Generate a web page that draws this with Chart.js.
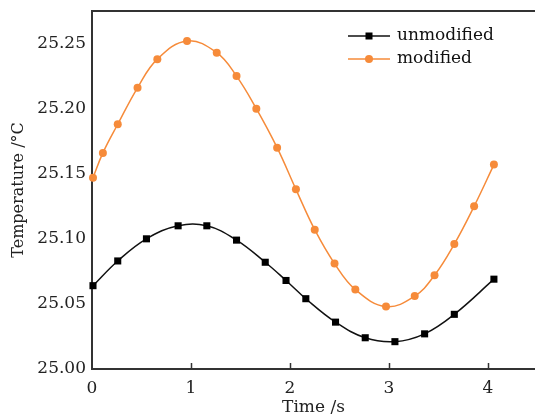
<!DOCTYPE html>
<html>
<head>
<meta charset="utf-8">
<script src="https://cdn.jsdelivr.net/npm/chart.js@4.4.1/dist/chart.umd.min.js"></script>
<style>
    html, body { margin: 0; padding: 0; background: #fff; }
    #wrap { width: 535px; height: 420px; }
</style>
</head>
<body>
<div id="wrap"><canvas id="tempChart"></canvas></div>
<script>
// values
const timeUnmod = [0.01, 0.26, 0.55, 0.87, 1.16, 1.46, 1.75, 1.96, 2.16, 2.46, 2.76, 3.06, 3.36, 3.66, 4.06];
const tempUnmod = [25.064, 25.083, 25.100, 25.110, 25.110, 25.099, 25.082, 25.068, 25.054, 25.036, 25.024, 25.021, 25.027, 25.042, 25.069];

const timeMod = [0.01, 0.11, 0.26, 0.46, 0.66, 0.96, 1.26, 1.46, 1.66, 1.87, 2.06, 2.25, 2.45, 2.66, 2.97, 3.26, 3.46, 3.66, 3.86, 4.06];
const tempMod = [25.147, 25.166, 25.188, 25.216, 25.238, 25.252, 25.243, 25.225, 25.200, 25.170, 25.138, 25.107, 25.081, 25.061, 25.048, 25.056, 25.072, 25.096, 25.125, 25.157];

const seriesNames = ["unmodified", "modified"];
const xTicks = [0, 1, 2, 3, 4];
const yTicks = [25.00, 25.05, 25.10, 25.15, 25.20, 25.25];

const FONT = "'DejaVu Serif', 'Liberation Serif', serif";
const AXIS = '#333';

function toPoints(xs, ys) {
    return xs.map((x, i) => ({ x: x, y: ys[i] }));
}

// top frame line, inward x ticks and the legend inside the plot
const extras = {
    id: 'extras',
    afterDatasetsDraw(chart) {
        const { ctx, chartArea, scales } = chart;
        ctx.save();
        ctx.strokeStyle = AXIS;
        ctx.lineWidth = 2;
        ctx.beginPath();
        ctx.moveTo(chartArea.left, chartArea.top);
        ctx.lineTo(chartArea.right, chartArea.top);
        ctx.stroke();

        ctx.lineWidth = 1.5;
        xTicks.forEach(v => {
            if (v === 0) return;
            const px = Math.round(scales.x.getPixelForValue(v)) + 0.5;
            ctx.beginPath();
            ctx.moveTo(px, chartArea.bottom);
            ctx.lineTo(px, chartArea.bottom - 6);
            ctx.stroke();
        });

        // legend
        const lx = chartArea.left + 256;
        const ly = chartArea.top + 25;
        chart.data.datasets.forEach((ds, i) => {
            const y = ly + i * 23;
            ctx.strokeStyle = ds.borderColor;
            ctx.lineWidth = ds.borderWidth;
            ctx.beginPath();
            ctx.moveTo(lx, y);
            ctx.lineTo(lx + 42, y);
            ctx.stroke();
            ctx.fillStyle = ds.pointBackgroundColor;
            if (ds.pointStyle === 'rect') {
                ctx.fillRect(lx + 21 - 3.5, y - 3.5, 7, 7);
            } else {
                ctx.beginPath();
                ctx.arc(lx + 21, y, 4, 0, Math.PI * 2);
                ctx.fill();
            }
            ctx.fillStyle = '#111';
            ctx.font = "17px " + FONT;
            ctx.textBaseline = 'middle';
            ctx.textAlign = 'left';
            ctx.fillText(ds.label, lx + 49, y);
        });
        ctx.restore();
    }
};

new Chart(document.getElementById('tempChart'), {
    type: 'scatter',
    data: {
        datasets: [{
            label: seriesNames[0],
            data: toPoints(timeUnmod, tempUnmod),
            showLine: true,
            borderColor: '#111',
            borderWidth: 1.5,
            pointStyle: 'rect',
            pointRadius: 5,
            pointBackgroundColor: '#000',
            pointBorderWidth: 0,
            tension: 0.4,
            clip: false
        }, {
            label: seriesNames[1],
            data: toPoints(timeMod, tempMod),
            showLine: true,
            borderColor: '#f68b3a',
            borderWidth: 1.5,
            pointStyle: 'circle',
            pointRadius: 4,
            pointBackgroundColor: '#f68b3a',
            pointBorderWidth: 0,
            tension: 0.4,
            clip: false
        }]
    },
    options: {
        responsive: true,
        maintainAspectRatio: false,
        animation: false,
        layout: { autoPadding: false, padding: { top: 11, right: 0, left: 0, bottom: 0 } },
        plugins: {
            legend: { display: false },
            tooltip: { enabled: false }
        },
        scales: {
            x: {
                type: 'linear',
                min: 0,
                max: 4.475,
                grid: { display: false, drawTicks: false },
                border: { color: AXIS, width: 2 },
                afterBuildTicks: s => { s.ticks = xTicks.map(v => ({ value: v })); },
                afterFit: s => { s.height = 51; s.paddingLeft = 0; s.paddingRight = 0; },
                ticks: {
                    color: '#222',
                    padding: 9,
                    maxRotation: 0,
                    font: { family: FONT, size: 17 },
                    callback: v => String(v)
                },
                title: {
                    display: true,
                    text: 'Time /s',
                    color: '#222',
                    padding: { top: 0, bottom: 2 },
                    font: { family: FONT, size: 17 }
                }
            },
            y: {
                min: 25.0,
                max: 25.275,
                grid: { display: false, drawTicks: false },
                border: { color: AXIS, width: 2 },
                afterBuildTicks: s => { s.ticks = yTicks.map(v => ({ value: v })); },
                afterFit: s => { s.width = 92; s.paddingTop = 0; s.paddingBottom = 0; },
                ticks: {
                    color: '#222',
                    padding: 6,
                    font: { family: FONT, size: 17 },
                    callback: v => Number(v).toFixed(2)
                },
                title: {
                    display: true,
                    text: 'Temperature /°C',
                    color: '#222',
                    padding: { top: 9, bottom: 0 },
                    font: { family: FONT, size: 16 }
                }
            }
        }
    },
    plugins: [extras]
});
</script>
</body>
</html>
